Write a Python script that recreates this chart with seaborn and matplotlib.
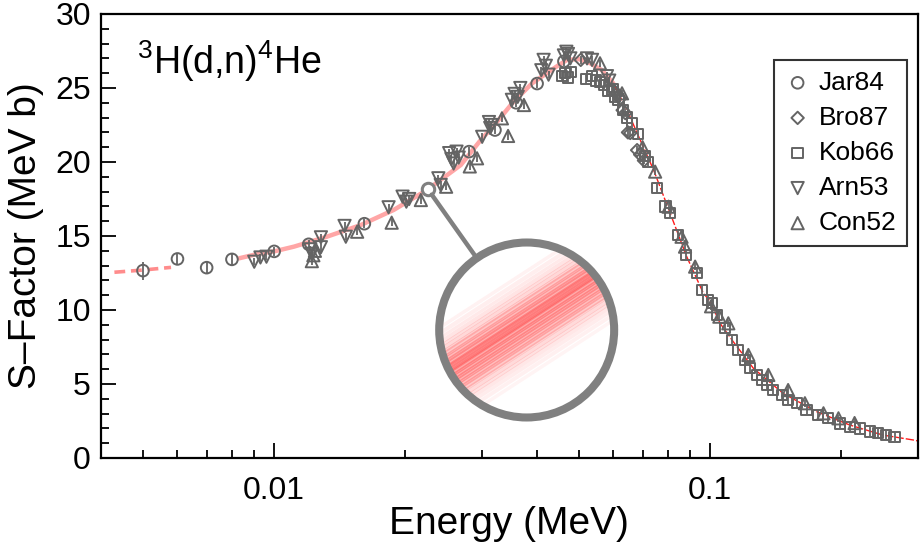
import numpy as np
import pandas as pd
import matplotlib
matplotlib.use("Agg")
import matplotlib.pyplot as plt
import seaborn as sns
from matplotlib.patches import Circle, ConnectionPatch
from matplotlib.ticker import FixedLocator, FuncFormatter, LogLocator, NullFormatter, MultipleLocator

# ========== DATA ==========
# Jar84 (circles)
jar84_E = [0.0050, 0.0060, 0.0070, 0.0080, 0.0100, 0.0120, 0.0161, 0.0280, 0.0321, 0.0359, 0.0401, 0.0462]
jar84_S = [12.66, 13.45, 12.86, 13.42, 13.96, 14.44, 15.83, 20.70, 22.16, 24.0, 25.3, 26.8]
jar84_err = [0.6, 0.4, 0.4, 0.35, 0.3, 0.3, 0.3, 0.3, 0.3, 0.3, 0.3, 0.3]

# Bro87 (diamonds)
bro87_E = [0.0505, 0.0598, 0.0612, 0.0622, 0.0630, 0.0639, 0.0648, 0.0656, 0.0680, 0.0691, 0.0705]
bro87_S = [26.9, 24.9, 24.6, 24.3, 23.5, 23.3, 22.0, 21.96, 20.8, 20.5, 20.1]
bro87_err = 0.25

# Kob66 (squares)
kob66_E = [0.0458, 0.0465, 0.0472, 0.0480, 0.0520, 0.0535, 0.0548, 0.0560, 0.0572, 0.0585,
           0.0597, 0.0606, 0.0616, 0.0632, 0.0645, 0.0662, 0.0684, 0.0710, 0.0721, 0.0755,
           0.0790, 0.0810, 0.0845, 0.0880, 0.0934, 0.0957, 0.0990, 0.1010, 0.1036, 0.1080,
           0.1121, 0.1160, 0.1203, 0.1235, 0.1280, 0.1314, 0.1349, 0.1396, 0.1460, 0.1510,
           0.1580, 0.1665, 0.1770, 0.1867, 0.1985, 0.2090, 0.2205, 0.2323, 0.2427, 0.2536, 0.2650]
kob66_S = [25.8, 26.0, 25.7, 26.1, 25.6, 25.8, 25.5, 25.4, 25.2, 24.8,
           24.9, 24.4, 24.2, 23.5, 23.0, 22.6, 21.9, 20.4, 20.0, 18.22,
           17.0, 16.53, 15.07, 13.72, 12.48, 11.35, 10.68, 10.45, 9.66, 8.76,
           7.97, 7.3, 6.62, 6.06, 5.61, 5.27, 4.93, 4.59, 4.26, 3.92,
           3.70, 3.24, 2.91, 2.68, 2.34, 2.11, 2.0, 1.78, 1.67, 1.55, 1.44]
kob66_err = 0.3

# Arn53 (down triangles)
arn53_E = [0.0090, 0.0093, 0.0096, 0.0121, 0.0122, 0.0128, 0.0128, 0.0145, 0.0146, 0.0183,
           0.0197, 0.0201, 0.0204, 0.0238, 0.0241, 0.0252, 0.0255, 0.0258, 0.0262, 0.0265,
           0.0300, 0.0311, 0.0313, 0.0315, 0.0351, 0.0356, 0.0362, 0.0367, 0.0410, 0.0415,
           0.0420, 0.0426, 0.0462, 0.0468, 0.0472, 0.0478, 0.0522, 0.0536, 0.0580, 0.0587]
arn53_S = [13.26, 13.55, 13.6, 14.1, 13.8, 14.91, 14.24, 15.68, 14.95, 16.94,
           17.66, 17.32, 17.5, 18.9, 18.45, 20.6, 20.2, 19.9, 20.7, 20.3,
           21.7, 22.7, 22.3, 22.5, 24.2, 24.6, 24.4, 25.0, 26.2, 26.9,
           26.5, 25.9, 27.2, 27.45, 27.3, 27.0, 27.0, 26.9, 25.8, 25.5]
arn53_err = 0.25

# Con52 (up triangles)
con52_E = [0.0122, 0.0123, 0.0124, 0.0155, 0.0186, 0.0217, 0.0248, 0.0281, 0.0292, 0.0333,
           0.0344, 0.0374, 0.0559, 0.0628, 0.0700, 0.0748, 0.0803, 0.0860, 0.0876, 0.0924,
           0.1005, 0.1050, 0.1101, 0.1224, 0.1360, 0.1510, 0.1650, 0.1820, 0.1970, 0.2145]
con52_S = [13.3, 13.7, 14.0, 15.29, 15.9, 17.43, 18.33, 19.7, 20.25, 22.95,
           21.76, 23.85, 26.67, 24.64, 21.0, 19.35, 16.98, 14.95, 14.28, 12.93,
           10.25, 9.55, 9.1, 6.96, 5.61, 4.59, 3.70, 3.02, 2.68, 2.36]
con52_err = 0.25

# model curve (centre of the posterior band)
low_E = [0.0043, 0.0050, 0.0058]
low_S = [12.55, 12.70, 12.88]
curve_E = np.array([0.0083, 0.0093, 0.0100, 0.0111, 0.0132, 0.0158, 0.0188, 0.0224, 0.0268, 0.0298,
                    0.0320, 0.0354, 0.0390, 0.0422, 0.0447, 0.0470, 0.0500, 0.0531, 0.0565, 0.0600,
                    0.0622, 0.0645, 0.0691, 0.0742, 0.0810, 0.0884, 0.0965, 0.1000, 0.1054, 0.1130,
                    0.1257, 0.1470, 0.1756, 0.2090, 0.2490, 0.2920, 0.3000])
curve_S = np.array([13.49, 13.83, 13.96, 14.28, 14.95, 15.74, 16.76, 18.10, 19.80, 21.50,
                    22.50, 24.07, 25.30, 26.00, 26.50, 26.90, 26.95, 26.67, 26.20, 25.30,
                    24.40, 23.50, 21.50, 19.46, 16.53, 13.60, 11.13, 10.60, 9.10, 7.86,
                    6.06, 4.37, 3.13, 2.23, 1.55, 1.22, 1.15])

# magnified point
zoom_E, zoom_S = 0.0225, 18.18
# line offsets / opacities / widths of the sample curves seen in the magnifier
zoom_slope = 0.65
zoom_offsets = [0.62, 0.56, 0.51, 0.46, 0.42, 0.38, 0.34, 0.31, 0.28, 0.25, 0.22, 0.19, 0.16, 0.14, 0.11, 0.09,
                0.06, 0.03, 0.0, -0.03, -0.06, -0.09, -0.12, -0.15, -0.18, -0.21, -0.25, -0.29, -0.33, -0.38, -0.43, -0.49]
zoom_alpha = [0.07, 0.09, 0.12, 0.15, 0.18, 0.21, 0.25, 0.30, 0.33, 0.37, 0.40, 0.42, 0.45, 0.47, 0.48, 0.48,
              0.46, 0.45, 0.44, 0.42, 0.40, 0.38, 0.35, 0.32, 0.28, 0.24, 0.20, 0.16, 0.13, 0.10, 0.08, 0.06]
zoom_width = [2.5, 3.0, 2.2, 3.2, 2.4, 3.0, 2.6, 3.4, 2.2, 3.0, 2.8, 3.4, 2.4, 3.0, 3.2, 2.6,
              3.4, 2.4, 3.0, 2.8, 3.2, 2.4, 3.0, 2.6, 3.4, 2.2, 3.0, 2.6, 3.2, 2.4, 2.8, 2.5]

datasets = [
    ("Jar84", jar84_E, jar84_S, jar84_err, "o", 70),
    ("Bro87", bro87_E, bro87_S, bro87_err, "D", 40),
    ("Kob66", kob66_E, kob66_S, kob66_err, "s", 55),
    ("Arn53", arn53_E, arn53_S, arn53_err, "v", 78),
    ("Con52", con52_E, con52_S, con52_err, "^", 78),
]

# ========== STYLE ==========
sns.set_theme(style="white")
plt.rcParams['font.family'] = ['Liberation Sans', 'DejaVu Sans']
plt.rcParams['mathtext.fontset'] = 'custom'
plt.rcParams['mathtext.rm'] = 'Liberation Sans'
plt.rcParams['mathtext.it'] = 'Liberation Sans:italic'
plt.rcParams['text.color'] = 'black'
plt.rcParams['axes.labelcolor'] = 'black'

GRAY = "#646464"

fig = plt.figure(figsize=(9.24, 5.51), dpi=100)
ax = fig.add_axes([0.109, 0.1688, 0.8846, 0.8058])
ax.set_xscale("log")

# ========== CURVE ==========
sns.lineplot(x=low_E, y=low_S, ax=ax, color="#ff8c8c", lw=2.6, ls=(0, (3, 1.6)),
             sort=False, estimator=None, zorder=1)
rise = curve_E <= 0.060
fall = curve_E >= 0.060
sns.lineplot(x=curve_E[rise], y=curve_S[rise], ax=ax, color="#ffa6a6", lw=3.2,
             sort=False, estimator=None, zorder=1)
sns.lineplot(x=curve_E[fall], y=curve_S[fall], ax=ax, color="#ff1a1a", lw=1.0,
             ls=(0, (6, 1.5)), sort=False, estimator=None, zorder=1)

# ========== DATA POINTS ==========
handles = []
for name, E, S, err, mk, size in datasets:
    ax.errorbar(E, S, yerr=err, fmt="none", ecolor=GRAY, elinewidth=1.3, capsize=0, zorder=2)
    sns.scatterplot(x=E, y=S, ax=ax, marker=mk, s=size, facecolor="none",
                    edgecolor=GRAY, linewidth=1.4, legend=False, zorder=3)
    handles.append(ax.collections[-1])
    handles[-1].set_label(name)

# magnified point marker
ax.scatter([zoom_E], [zoom_S], s=80, facecolor="white", edgecolor="#808080", linewidth=2.2, zorder=4)

# ========== AXES ==========
ax.set_xlim(0.004, 0.3)
ax.set_ylim(0, 30)
ax.xaxis.set_major_locator(FixedLocator([0.01, 0.1]))
ax.xaxis.set_major_formatter(FuncFormatter(lambda v, _: f"{v:g}"))
ax.xaxis.set_minor_locator(LogLocator(base=10, subs=np.arange(2, 10)))
ax.xaxis.set_minor_formatter(NullFormatter())
ax.yaxis.set_major_locator(MultipleLocator(5))
ax.yaxis.set_minor_locator(MultipleLocator(1))
ax.tick_params(which="both", direction="in", bottom=True, left=True, top=False, right=False,
               width=1.3, color="black", labelsize=23, labelcolor="black")
ax.tick_params(which="major", length=11)
ax.tick_params(which="minor", length=6)
ax.tick_params(axis="x", pad=13)
ax.tick_params(axis="y", pad=7)
for sp in ax.spines.values():
    sp.set_color("black")
    sp.set_linewidth(1.6)

ax.set_xlabel("Energy (MeV)", fontsize=28, labelpad=0)
ax.set_ylabel("S–Factor (MeV b)", fontsize=28, labelpad=8)
ax.text(0.044, 0.945, r"$^{3}$H(d,n)$^{4}$He", transform=ax.transAxes, fontsize=27,
        ha="left", va="top", color="black")

leg = ax.legend(handles=handles, loc="upper right", bbox_to_anchor=(0.9865, 0.896),
                frameon=True, fancybox=False, edgecolor="black", fontsize=19,
                handletextpad=0.3, borderpad=0.4, labelspacing=0.42, handlelength=1.0,
                borderaxespad=0)
leg.get_frame().set_linewidth(1.5)
for t in leg.get_texts():
    t.set_color("black")

# ========== MAGNIFIER ==========
inset = fig.add_axes([0.4672, 0.2287, 0.2056, 0.3448])
inset.set_xlim(-1, 1)
inset.set_ylim(-1, 1)
inset.axis("off")
inset.add_patch(Circle((0, 0), 0.92, facecolor="white", edgecolor="none", zorder=0))
clip = Circle((0, 0), 0.9, transform=inset.transData)
xs = np.array([-1.2, 1.2])
for b, a, w in zip(zoom_offsets, zoom_alpha, zoom_width):
    ln, = inset.plot(xs, zoom_slope * xs + b, color="#ff4a4a", alpha=a, lw=w, zorder=1)
    ln.set_clip_path(clip)
inset.add_patch(Circle((0, 0), 0.921, fill=False, edgecolor="#808080", lw=5.8, zorder=3, clip_on=False))

ang = np.deg2rad(124.8)
con = ConnectionPatch(xyA=(zoom_E, zoom_S), coordsA=ax.transData,
                      xyB=(0.96 * np.cos(ang), 0.96 * np.sin(ang)), coordsB=inset.transData,
                      color="#808080", lw=3.2, shrinkA=5, shrinkB=0, zorder=5)
fig.add_artist(con)

fig.savefig("out.png", dpi=100)
plt.close(fig)
